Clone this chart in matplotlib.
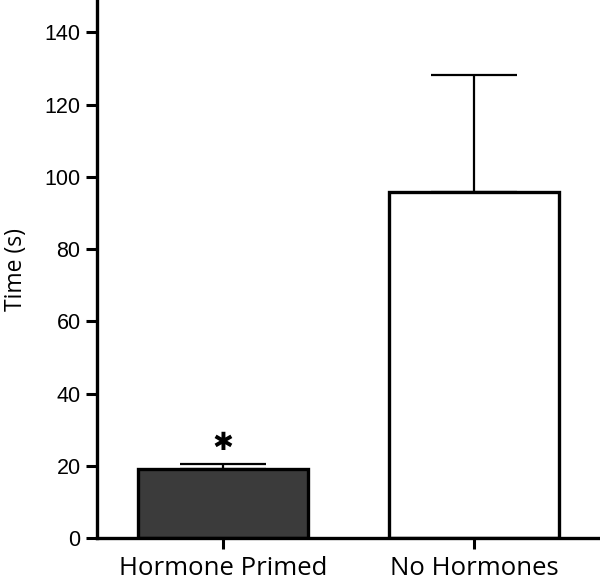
import matplotlib
matplotlib.use("Agg")
import matplotlib.pyplot as plt

categories = ["Hormone Primed", "No Hormones"]
means = [19.0, 95.8]
errors = [1.4, 32.5]
colors = ["#3b3b3b", "#ffffff"]

fig = plt.figure(figsize=(6.0, 5.79), dpi=100)
ax = fig.add_axes([0.162, 0.0708, 0.838, 0.9292])

x = list(range(len(categories)))
ax.bar(x, means, width=0.675, color=colors, edgecolor="black", linewidth=2.4, zorder=2)
ax.errorbar(x, means, yerr=[[0, 0], errors], fmt="none", ecolor="black",
            elinewidth=1.6, capsize=31, capthick=1.6, zorder=1)

ax.text(x[0], means[0] + errors[0] + 5.8, "\u2731", ha="center", va="center",
        fontsize=18, family="DejaVu Sans")

ax.set_xlim(-0.5, 1.5)
ax.set_ylim(0, 149)
ax.set_yticks(range(0, 141, 20))
ax.set_xticks(x)
ax.set_xticklabels(categories, fontsize=18.5, family="Open Sans")
for lab in ax.get_yticklabels():
    lab.set_family("Liberation Sans")
    lab.set_fontsize(15.5)
ax.set_ylabel("Time (s)", fontsize=16.5, family="Open Sans")
ax.yaxis.set_label_coords(-0.138, 0.5)

for s in ["top", "right"]:
    ax.spines[s].set_visible(False)
for s in ["left", "bottom"]:
    ax.spines[s].set_linewidth(2.4)
ax.tick_params(axis="both", width=2.2, length=8, direction="out")
ax.tick_params(axis="y", pad=4)
ax.tick_params(axis="x", pad=5)

fig.savefig("out.png", dpi=100)
